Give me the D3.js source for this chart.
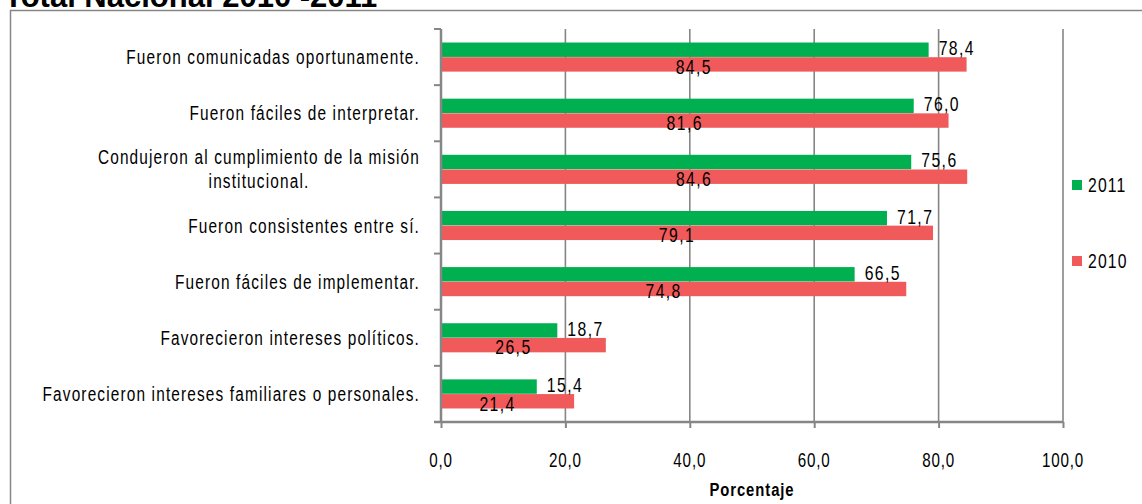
<!DOCTYPE html>
<html><head><meta charset="utf-8">
<script src="https://cdn.jsdelivr.net/npm/d3@7"></script>
<style>
html,body{margin:0;padding:0;background:#fff;}
svg{display:block;}
text{font-family:"Liberation Sans",Arial,sans-serif;fill:#000;}
</style></head>
<body>
<svg id="chart" width="1142" height="504"></svg>
<script>
const title = "Total Nacional 2010 -2011";
const categories = [
  ["Fueron comunicadas oportunamente."],
  ["Fueron fáciles de interpretar."],
  ["Condujeron al cumplimiento de la misión", "institucional."],
  ["Fueron consistentes entre sí."],
  ["Fueron fáciles de implementar."],
  ["Favorecieron intereses políticos."],
  ["Favorecieron intereses familiares o personales."]
];
const seriesNames = ["2011", "2010"];
const values2011 = [78.4, 76.0, 75.6, 71.7, 66.5, 18.7, 15.4];
const values2010 = [84.5, 81.6, 84.6, 79.1, 74.8, 26.5, 21.4];
const xTicks = [0, 20, 40, 60, 80, 100];
const xTitle = "Porcentaje";
const colors = ["#00b050", "#f05a5a"];

const svg = d3.select("#chart");
const m = {left: 441, right: 1063, top: 29, bottom: 422};
const grid = "#868686";
const fmt = v => v.toFixed(1).replace(".", ",");

// narrow text helper: Arial-metric font squeezed horizontally (Arial Narrow look)
function ntext(parent, x, y, str, o = {}) {
  const sx = o.sx || 0.78;
  const g = parent.append("g").attr("transform", `translate(${x},${y}) scale(${sx},1)`);
  const t = g.append("text").attr("x", 0).attr("y", 0).attr("dy", "0.35em")
    .attr("text-anchor", o.anchor || "start")
    .style("font-size", (o.size || 18) + "px")
    .style("letter-spacing", (o.ls || 0) + "px")
    .style("font-weight", o.weight || "normal")
    .text(str);
  return t;
}

svg.append("rect").attr("width",1142).attr("height",504).attr("fill","#fff");
svg.append("rect").attr("x",10.5).attr("y",10.5).attr("width",1200).attr("height",600)
  .attr("fill","none").attr("stroke",grid).attr("stroke-width",1.5);
svg.append("text").attr("x",4).attr("y",7).text(title)
  .style("font-weight","bold").style("font-size","31px");

const x = d3.scaleLinear().domain([0,100]).range([m.left, m.right]);
const idx = d3.range(categories.length);
const y = d3.scaleBand().domain(idx).range([m.top, m.bottom]);
const ys = d3.scaleBand().domain(seriesNames).range([0, y.bandwidth()]).paddingInner(0.02).paddingOuter(0.92);

svg.append("g").selectAll("line").data(xTicks.slice(1)).join("line")
  .attr("x1", d=>x(d)).attr("x2", d=>x(d)).attr("y1", m.top).attr("y2", m.bottom)
  .attr("stroke", grid).attr("stroke-width", 1.6);

const series = [values2011, values2010];
series.forEach((vals, si) => {
  svg.append("g").selectAll("rect").data(vals).join("rect")
    .attr("x", x(0)).attr("y", (d,i)=>y(i)+ys(seriesNames[si]))
    .attr("width", d=>x(d)-x(0)).attr("height", ys.bandwidth())
    .attr("fill", colors[si]);
});

// x axis
const xAxis = d3.axisBottom(x).tickValues(xTicks).tickFormat("").tickSize(6);
const gx = svg.append("g").attr("transform",`translate(0,${m.bottom})`).call(xAxis);
gx.select(".domain").attr("stroke", grid).attr("stroke-width", 2.5).attr("d", `M${m.left-7},0H${m.right}`);
gx.selectAll(".tick line").attr("stroke", grid).attr("stroke-width", 2);
const xl = svg.append("g");
xTicks.forEach(v => ntext(xl, x(v), 460, fmt(v), {anchor:"middle", size:20, ls:1.1, sx:0.76}));

// y axis
const yEdges = d3.range(categories.length+1).map(i => m.top + i*y.step());
const gy = svg.append("g");
gy.append("line").attr("x1",m.left).attr("x2",m.left).attr("y1",m.top).attr("y2",m.bottom)
  .attr("stroke",grid).attr("stroke-width",2.5);
gy.selectAll("line.t").data(yEdges).join("line").attr("class","t")
  .attr("x1",m.left-7).attr("x2",m.left).attr("y1",d=>d).attr("y2",d=>d)
  .attr("stroke",grid).attr("stroke-width",2);

// category labels
const catG = svg.append("g");
const catOpt = {size:20, ls:1.5, sx:0.77};
categories.forEach((lines, i) => {
  const cy = y(i) + y.bandwidth()/2;
  if (lines.length === 1) {
    ntext(catG, 420, cy, lines[0], Object.assign({anchor:"end"}, catOpt));
  } else {
    const tmp = ntext(catG, 0, 0, lines[0], catOpt);
    const w = tmp.node().getComputedTextLength() * catOpt.sx;
    tmp.node().parentNode.remove();
    lines.forEach((ln, k) => {
      ntext(catG, 420 - w/2, cy + (k - (lines.length-1)/2)*24, ln, Object.assign({anchor:"middle"}, catOpt));
    });
  }
});

// value labels
const lab = svg.append("g");
const valOpt = {size:21, ls:1.9, sx:0.75};
values2011.forEach((d,i) => ntext(lab, x(d)+10, y(i)+ys("2011")+ys.bandwidth()/2 - 2, fmt(d), valOpt));
values2010.forEach((d,i) => ntext(lab, (x(d)+x(0))/2 - 10, y(i)+ys("2010")+ys.bandwidth()/2 + 2, fmt(d), Object.assign({anchor:"middle"}, valOpt)));

// x title
ntext(svg, 752, 489, xTitle, {anchor:"middle", size:19, weight:"bold", ls:1.2, sx:0.78});

// legend
const leg = svg.append("g");
const legY = [185, 261];
seriesNames.forEach((s, i) => {
  leg.append("rect").attr("x",1072).attr("y",legY[i]-5).attr("width",10).attr("height",10).attr("fill",colors[i]);
  ntext(leg, 1088, legY[i], s, {size:21, ls:1.5, sx:0.75});
});
</script>
</body></html>
